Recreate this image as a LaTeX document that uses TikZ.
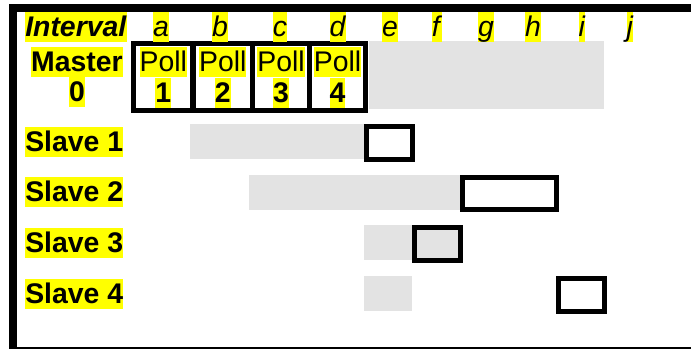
\documentclass[tikz,border=0pt]{standalone}
\usepackage{fontspec}
\setmainfont{Liberation Sans}
\definecolor{hlyellow}{RGB}{255,255,0}
\definecolor{slotgrey}{RGB}{227,227,227}

\begin{document}
\begin{tikzpicture}[x=0.75pt,y=0.75pt,yscale=-1,xscale=1,
		hl/.style={fill=hlyellow,inner sep=0pt,text height=18.2pt,text depth=4pt,font=\fontsize{21.3}{23}\selectfont},
		slot/.style={fill=slotgrey,draw=none},
		cell/.style={draw=black,line width=4.1pt},
		reply/.style={draw=black,line width=3.75pt}]
		\path[use as bounding box] (0,0) rectangle (691,349);
		\clip (0,0) rectangle (691,349);
		
		%Frame (right and bottom run off the page)
		\draw [line width=6pt] (700,7.75) -- (13,7.75) -- (13,350.5) -- (700,350.5) ;
		
		%Shape: Rectangle [master busy]
		\draw [slot] (369,41) rectangle (604,109) ;
		%Shape: Rectangle [poll cells]
		\draw [cell] (133.5,43.5) rectangle (193,110.5) ;
		\draw [cell] (193,43.5) rectangle (252.5,110.5) ;
		\draw [cell] (252.5,43.5) rectangle (309.5,110.5) ;
		\draw [cell] (309.5,43.5) rectangle (365.5,110.5) ;
		
		%Shape: Rectangle [slave 1]
		\draw [slot] (190,124) rectangle (366,159) ;
		\draw [reply] (366.5,126.5) rectangle (412.5,159.5) ;
		%Shape: Rectangle [slave 2]
		\draw [slot] (249,175) rectangle (462,210) ;
		\draw [reply] (462.5,177.5) rectangle (556.5,209.5) ;
		%Shape: Rectangle [slave 3]
		\draw [slot] (364,225) rectangle (414,260) ;
		\draw [reply,fill=slotgrey] (414.5,227.5) rectangle (460.5,260.5) ;
		%Shape: Rectangle [slave 4]
		\draw [slot] (364,276) rectangle (412,311) ;
		\draw [reply] (558.5,278.5) rectangle (604.5,311) ;
		
		% Text Node
		\draw (25,12) node [anchor=north west][hl] (interval) {\textbf{\textit{Interval}}};
		% Text Node
		\draw (161,12) node [anchor=north][hl] (ia) {\textit{a}};
		\draw (220,12) node [anchor=north][hl] (ib) {\textit{b}};
		\draw (280,12) node [anchor=north][hl] (ic) {\textit{c}};
		\draw (338,12) node [anchor=north][hl] (id) {\textit{d}};
		\draw (390,12) node [anchor=north][hl] (ie) {\textit{e}};
		\draw (437,12) node [anchor=north][hl] (if) {\textit{f}};
		\draw (486,12) node [anchor=north][hl] (ig) {\textit{g}};
		\draw (533,12) node [anchor=north][hl] (ih) {\textit{h}};
		\draw (582,12) node [anchor=north][hl] (ii) {\textit{i}};
		\draw (630,12) node [anchor=north][hl] (ij) {\textit{j}};
		
		% Text Node
		\draw (77,47) node [anchor=north][hl] (master) {\textbf{Master}};
		\draw (77,77) node [anchor=north][hl] (masterid) {\textbf{0}};
		% Text Node
		\draw (163.25,47) node [anchor=north][hl] (poll1) {Poll};
		\draw (163.25,78) node [anchor=north][hl] (num1) {\textbf{1}};
		\draw (222.75,47) node [anchor=north][hl] (poll2) {Poll};
		\draw (222.75,78) node [anchor=north][hl] (num2) {\textbf{2}};
		\draw (281,47) node [anchor=north][hl] (poll3) {Poll};
		\draw (281,78) node [anchor=north][hl] (num3) {\textbf{3}};
		\draw (337.5,47) node [anchor=north][hl] (poll4) {Poll};
		\draw (337.5,78) node [anchor=north][hl] (num4) {\textbf{4}};
		
		% Text Node
		\draw (25,127) node [anchor=north west][hl] (slave1) {\textbf{Slave 1}};
		\draw (25,177) node [anchor=north west][hl] (slave2) {\textbf{Slave 2}};
		\draw (25,228) node [anchor=north west][hl] (slave3) {\textbf{Slave 3}};
		\draw (25,279) node [anchor=north west][hl] (slave4) {\textbf{Slave 4}};
	\end{tikzpicture}
\end{document}
